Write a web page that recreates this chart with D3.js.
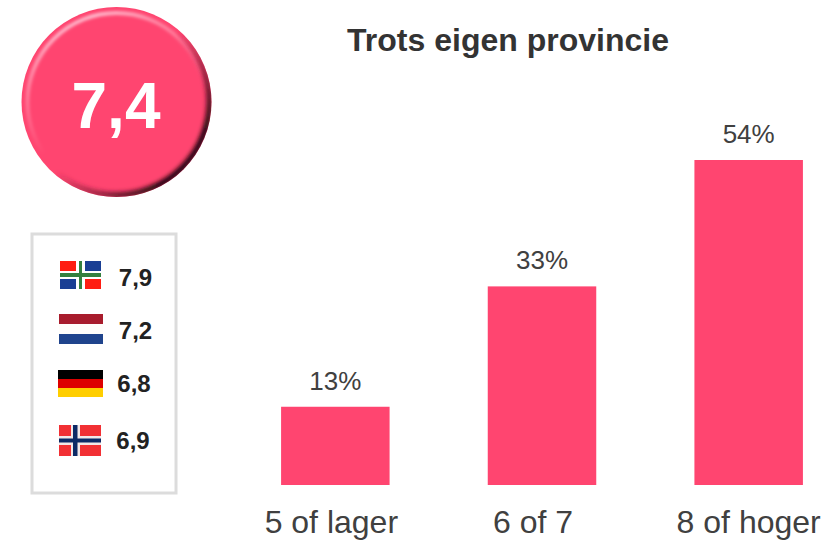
<!DOCTYPE html>
<html>
<head>
<meta charset="utf-8">
<script src="https://cdn.jsdelivr.net/npm/d3@7"></script>
<style>
  html, body { margin: 0; padding: 0; background: #fff; }
  svg { display: block; }
  text { font-family: "Liberation Sans", Arial, sans-serif; }
  .domain, .tick line { display: none; }
</style>
</head>
<body>
<svg></svg>
<script>
const w = 839;
const h = 540;

const categories = ['5 of lager', '6 of 7', '8 of hoger'];
const values = [13, 33, 54];
const title = 'Trots eigen provincie';
const score = '7,4';
const flagNames = ['groningen', 'nederland', 'duitsland', 'noorwegen'];
const flagScores = ['7,9', '7,2', '6,8', '6,9'];

const pink = '#ff4570';

const canvas = d3.select('svg').attr('width', w).attr('height', h);
const defs = canvas.append('defs');

const xScale = d3.scaleBand().domain(categories).range([232, 852]).paddingInner(0.475).paddingOuter(0.2375);
const yScale = d3.scaleLinear().domain([0, 54]).range([485, 160]);

// title
canvas.append('text')
  .attr('x', 508).attr('y', 51)
  .attr('text-anchor', 'middle')
  .attr('font-size', 32).attr('font-weight', 'bold')
  .attr('fill', '#333')
  .text(title);

// bars
canvas.selectAll('rect.bar')
  .data(values)
  .enter()
  .append('rect')
  .attr('class', 'bar')
  .attr('x', (d, i) => xScale(categories[i]))
  .attr('y', (d) => yScale(d))
  .attr('width', xScale.bandwidth())
  .attr('height', (d) => yScale(0) - yScale(d))
  .attr('fill', pink);

canvas.selectAll('text.val')
  .data(values)
  .enter()
  .append('text')
  .attr('class', 'val')
  .attr('x', (d, i) => xScale(categories[i]) + xScale.bandwidth() / 2)
  .attr('y', (d) => yScale(d) - 17)
  .attr('text-anchor', 'middle')
  .attr('font-size', 26)
  .attr('fill', '#404040')
  .text((d) => d + '%');

// category labels, no axis line. the labels sit off centre in the original
const labelShift = d3.scaleOrdinal().domain(categories).range([-4, -9, 0]);
const xAxis = canvas.append('g')
  .attr('transform', 'translate(0,485)')
  .call(d3.axisBottom(xScale).tickSize(0).tickPadding(25));
xAxis.selectAll('text')
  .attr('font-size', 32)
  .attr('fill', '#404040')
  .attr('dx', (d) => labelShift(d));

// round score badge
const cx = 116.5;
const cy = 102;
const r = 95;

const darkGrad = defs.append('linearGradient').attr('id', 'ringDark')
  .attr('x1', 0.15).attr('y1', 0.2).attr('x2', 0.85).attr('y2', 0.8);
darkGrad.append('stop').attr('offset', 0.5).attr('stop-color', '#8a1f3a').attr('stop-opacity', 0);
darkGrad.append('stop').attr('offset', 0.75).attr('stop-color', '#8a1f3a').attr('stop-opacity', 0.8);
darkGrad.append('stop').attr('offset', 1).attr('stop-color', '#1c060c').attr('stop-opacity', 1);

const lightGrad = defs.append('linearGradient').attr('id', 'ringLight')
  .attr('x1', 0.3).attr('y1', 0).attr('x2', 0.55).attr('y2', 0.6);
lightGrad.append('stop').attr('offset', 0).attr('stop-color', '#ffc0d2').attr('stop-opacity', 1);
lightGrad.append('stop').attr('offset', 0.35).attr('stop-color', '#ffa0b8').attr('stop-opacity', 0.7);
lightGrad.append('stop').attr('offset', 1).attr('stop-color', '#ffa0b8').attr('stop-opacity', 0);

defs.append('filter').attr('id', 'soft').append('feGaussianBlur').attr('stdDeviation', 1.6);
defs.append('filter').attr('id', 'softer').append('feGaussianBlur').attr('stdDeviation', 2);
defs.append('clipPath').attr('id', 'disc').append('circle').attr('cx', cx).attr('cy', cy).attr('r', r);

const badge = canvas.append('g');
badge.append('circle').attr('cx', cx).attr('cy', cy).attr('r', r).attr('fill', pink);
const rings = badge.append('g').attr('clip-path', 'url(#disc)');
rings.append('circle')
  .attr('cx', cx).attr('cy', cy).attr('r', r - 6)
  .attr('fill', 'none')
  .attr('stroke', 'url(#ringLight)')
  .attr('stroke-width', 4)
  .attr('filter', 'url(#soft)');
rings.append('circle')
  .attr('cx', cx).attr('cy', cy).attr('r', r - 2)
  .attr('fill', 'none')
  .attr('stroke', 'url(#ringDark)')
  .attr('stroke-width', 6)
  .attr('filter', 'url(#softer)');
badge.append('text')
  .attr('x', 116).attr('y', 128)
  .attr('text-anchor', 'middle')
  .attr('font-size', 64).attr('font-weight', 'bold')
  .attr('fill', '#fff')
  .text(score);

// panel with flags
canvas.append('rect')
  .attr('x', 32).attr('y', 234).attr('width', 144).attr('height', 259)
  .attr('fill', '#fff').attr('stroke', '#dcdcdc').attr('stroke-width', 3);

const stripes = (g, x, y, fw, fh, cols) => {
  cols.forEach((c, i) => {
    g.append('rect')
      .attr('x', x).attr('y', y + (i * fh) / cols.length)
      .attr('width', fw).attr('height', fh / cols.length)
      .attr('fill', c);
  });
};

const drawFlag = {
  groningen: (g) => {
    const [x, y, fw, fh] = [60, 261, 41, 28];
    g.append('rect').attr('x', x).attr('y', y).attr('width', 16).attr('height', 10).attr('fill', '#ff1d12');
    g.append('rect').attr('x', x + 25).attr('y', y).attr('width', 16).attr('height', 10).attr('fill', '#1a3f94');
    g.append('rect').attr('x', x).attr('y', y + 18).attr('width', 16).attr('height', 10).attr('fill', '#1a3f94');
    g.append('rect').attr('x', x + 25).attr('y', y + 18).attr('width', 16).attr('height', 10).attr('fill', '#ff1d12');
    g.append('rect').attr('x', x).attr('y', y + 12).attr('width', fw).attr('height', 4).attr('fill', '#34803f');
    g.append('rect').attr('x', x + 19).attr('y', y).attr('width', 3).attr('height', fh).attr('fill', '#34803f');
  },
  nederland: (g) => stripes(g, 59, 314, 44, 30, ['#a81c2c', '#fffdfa', '#20448c']),
  duitsland: (g) => stripes(g, 58, 370, 45, 27, ['#000', '#dd0000', '#ffce00']),
  noorwegen: (g) => {
    const [x, y, fw, fh] = [59, 425, 42, 31];
    g.append('rect').attr('x', x).attr('y', y).attr('width', fw).attr('height', fh).attr('fill', '#f23034');
    g.append('rect').attr('x', x).attr('y', y + 11).attr('width', fw).attr('height', 9).attr('fill', '#f2e8e8');
    g.append('rect').attr('x', x + 12).attr('y', y).attr('width', 9).attr('height', fh).attr('fill', '#f2e8e8');
    g.append('rect').attr('x', x).attr('y', y + 13.5).attr('width', fw).attr('height', 4).attr('fill', '#0c2a66');
    g.append('rect').attr('x', x + 14).attr('y', y).attr('width', 4.5).attr('height', fh).attr('fill', '#0c2a66');
  },
};

const flagScoreX = d3.scaleOrdinal().domain(flagNames).range([135.5, 135.5, 134, 133]);
const flagScoreY = d3.scaleOrdinal().domain(flagNames).range([286, 339, 392, 449]);

flagNames.forEach((name, i) => {
  const g = canvas.append('g').attr('class', 'flag');
  drawFlag[name](g);
  g.append('text')
    .attr('x', flagScoreX(name))
    .attr('y', flagScoreY(name))
    .attr('text-anchor', 'middle')
    .attr('font-size', 24).attr('font-weight', 'bold')
    .attr('fill', '#222')
    .text(flagScores[i]);
});
</script>
</body>
</html>
